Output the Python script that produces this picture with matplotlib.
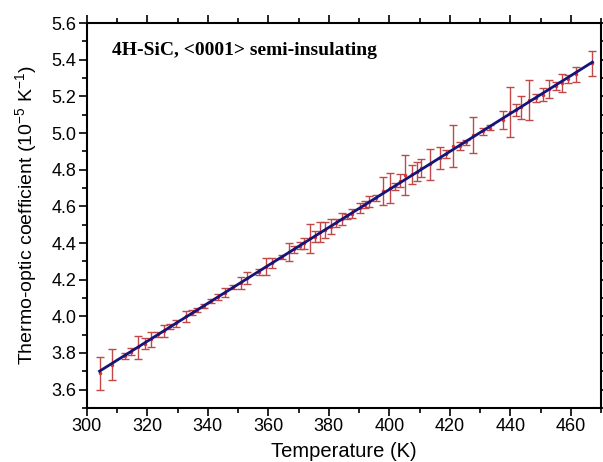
import numpy as np
import matplotlib
matplotlib.use("Agg")
import matplotlib.pyplot as plt
from matplotlib.ticker import MultipleLocator

# temperatures (K), thermo-optic coefficient (1e-5 / K) and error half-widths
temps = [304.2, 308.3, 312.5, 314.7, 316.9, 319.1, 321.2, 323.4, 325.6, 327.5,
         329.6, 332.9, 334.8, 336.4, 338.6, 341.0, 343.2, 345.7, 348.4, 350.8,
         353.1, 356.9, 359.1, 361.3, 364.5, 366.8, 368.6, 370.4, 371.8, 373.6,
         375.4, 377.2, 378.6, 380.7, 382.5, 384.3, 386.0, 387.6, 390.3, 391.9,
         393.3, 395.5, 398.0, 400.2, 402.0, 403.6, 405.2, 407.5, 409.0, 410.6,
         413.4, 416.7, 418.8, 421.1, 423.2, 425.4, 427.6, 430.9, 433.2, 437.5,
         439.7, 441.9, 443.5, 446.3, 448.5, 450.7, 452.9, 455.1, 457.2, 458.9,
         461.6, 467.1]
coef = [3.69, 3.735, 3.785, 3.808, 3.83, 3.85, 3.875, 3.902, 3.92, 3.945,
        3.962, 4.00, 4.02, 4.035, 4.055, 4.082, 4.105, 4.128, 4.16, 4.18,
        4.21, 4.243, 4.27, 4.29, 4.325, 4.35, 4.365, 4.385, 4.40, 4.425,
        4.435, 4.46, 4.47, 4.49, 4.51, 4.53, 4.545, 4.56, 4.59, 4.61,
        4.625, 4.645, 4.685, 4.70, 4.71, 4.74, 4.77, 4.775, 4.79, 4.81,
        4.83, 4.865, 4.885, 4.93, 4.93, 4.95, 4.99, 5.01, 5.03, 5.07,
        5.115, 5.125, 5.14, 5.18, 5.19, 5.21, 5.24, 5.255, 5.275, 5.295,
        5.32, 5.38]
errs = [0.09, 0.085, 0.016, 0.02, 0.062, 0.03, 0.04, 0.015, 0.035, 0.015,
        0.018, 0.03, 0.012, 0.012, 0.01, 0.012, 0.015, 0.025, 0.011, 0.032,
        0.033, 0.015, 0.046, 0.026, 0.012, 0.05, 0.02, 0.02, 0.03, 0.078,
        0.03, 0.055, 0.044, 0.041, 0.02, 0.034, 0.015, 0.023, 0.028, 0.02,
        0.03, 0.015, 0.077, 0.083, 0.02, 0.037, 0.11, 0.053, 0.052, 0.048,
        0.084, 0.06, 0.02, 0.113, 0.02, 0.014, 0.098, 0.02, 0.015, 0.048,
        0.138, 0.032, 0.061, 0.11, 0.023, 0.037, 0.05, 0.022, 0.049, 0.023,
        0.043, 0.067]

plt.rcParams['font.family'] = ['Liberation Sans', 'DejaVu Sans']
plt.rcParams['mathtext.fontset'] = 'custom'
plt.rcParams['mathtext.rm'] = 'Liberation Sans'

fig = plt.figure(figsize=(6.03, 4.62), dpi=100)
ax = fig.add_axes([0.144, 0.117, 0.853, 0.833])

ax.errorbar(temps, coef, yerr=errs, fmt='o', ms=1.5, color='#e03030',
            ecolor='#c04848', elinewidth=1.0, capsize=3, capthick=1.0, zorder=2)

# linear fit
k, b = np.polyfit(temps, coef, 1)
xf = np.array([temps[0], temps[-1]])
ax.plot(xf, k * xf + b, color='#14147a', lw=2.0, zorder=3)

ax.set_xlim(300, 470)
ax.set_ylim(3.5, 5.6)
ax.xaxis.set_major_locator(MultipleLocator(20))
ax.xaxis.set_minor_locator(MultipleLocator(10))
ax.yaxis.set_major_locator(MultipleLocator(0.2))
ax.yaxis.set_minor_locator(MultipleLocator(0.1))
ax.yaxis.set_major_formatter(plt.FormatStrFormatter('%.1f'))

ax.tick_params(which='both', direction='out', top=True, right=True,
               labelsize=13, width=1.2, pad=2)
ax.tick_params(which='major', length=5.5)
ax.tick_params(which='minor', length=3.5)
for s in ax.spines.values():
    s.set_linewidth(1.5)

ax.set_xlabel('Temperature (K)', fontsize=14.5, labelpad=5)
ax.set_ylabel(r'Thermo-optic coefficient (10$\mathregular{^{-5}}$ K$\mathregular{^{-1}}$)',
              fontsize=14, labelpad=9)

ax.text(0.048, 0.93, '4H-SiC, <0001> semi-insulating', transform=ax.transAxes,
        fontsize=14, fontweight='bold', family='Liberation Serif',
        va='center', ha='left')

fig.savefig('out.png', dpi=100)
